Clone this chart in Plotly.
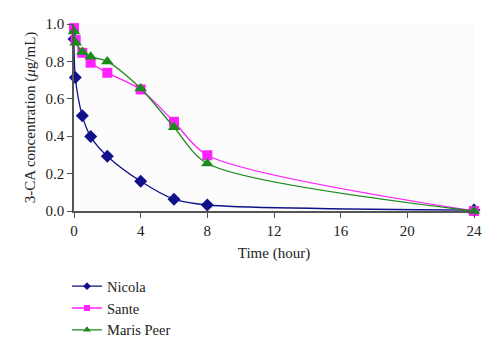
import plotly.graph_objects as go

time_nicola = [0, 0.08, 0.5, 1, 2, 4, 6, 8, 24]
nicola = [0.92, 0.714, 0.509, 0.398, 0.293, 0.159, 0.063, 0.032, 0.005]

time_other = [0, 0.1, 0.5, 1, 2, 4, 6, 8, 24]
sante = [0.978, 0.914, 0.846, 0.793, 0.739, 0.650, 0.477, 0.298, 0.0]
maris_peer = [0.960, 0.900, 0.850, 0.825, 0.800, 0.655, 0.448, 0.254, 0.0]

x_ticks = [0, 4, 8, 12, 16, 20, 24]
y_ticks = [0.0, 0.2, 0.4, 0.6, 0.8, 1.0]

font = "Liberation Serif"

series = [
    ("Nicola", time_nicola, nicola, "#11118a", "diamond", 10, 6),
    ("Sante", time_other, sante, "#ff22ff", "square", 10, 6),
    ("Maris Peer", time_other, maris_peer, "#1a8a1a", "triangle-up", 11, 7),
]

fig = go.Figure()
for name, t, v, color, sym, size, lsize in series:
    fig.add_trace(go.Scatter(
        x=t, y=v, name=name, mode="lines+markers", showlegend=False,
        line=dict(color=color, width=1.3, shape="spline", smoothing=0.8),
        marker=dict(symbol=sym, size=size, color=color), cliponaxis=False))
for name, t, v, color, sym, size, lsize in series:
    fig.add_trace(go.Scatter(
        x=[None], y=[None], name=name, mode="lines+markers", showlegend=True,
        line=dict(color=color, width=1.3),
        marker=dict(symbol=sym, size=lsize, color=color)))

fig.update_layout(
    width=500, height=350,
    margin=dict(l=74, r=26, t=24, b=139, autoexpand=False),
    paper_bgcolor="white", plot_bgcolor="#fcfcfc",
    font=dict(family=font, size=15, color="#222"),
    showlegend=True,
    legend=dict(x=-0.0175, y=0.228, yref="container", xanchor="left", yanchor="top",
                font=dict(family=font, size=14.5, color="#222"),
                tracegroupgap=0, itemwidth=30, bgcolor="rgba(0,0,0,0)"),
    xaxis=dict(range=[0, 24], tickvals=x_ticks, showgrid=False, zeroline=False,
               showline=True, linecolor="#555", linewidth=1.5,
               ticks="outside", ticklen=5, tickcolor="#555",
               tickfont=dict(family=font, size=15),
               title=dict(text="Time (hour)", standoff=10,
                          font=dict(family=font, size=15))),
    yaxis=dict(range=[0, 1.0], tickvals=y_ticks, tickformat=".1f", showgrid=False,
               zeroline=False, showline=True, linecolor="#555", linewidth=1.5,
               ticks="outside", ticklen=5, tickcolor="#555",
               tickfont=dict(family=font, size=15),
               title=dict(text="3-CA concentration (<i>μ</i>g/mL)", standoff=6,
                          font=dict(family=font, size=15))),
)

fig.write_html("out.html")
